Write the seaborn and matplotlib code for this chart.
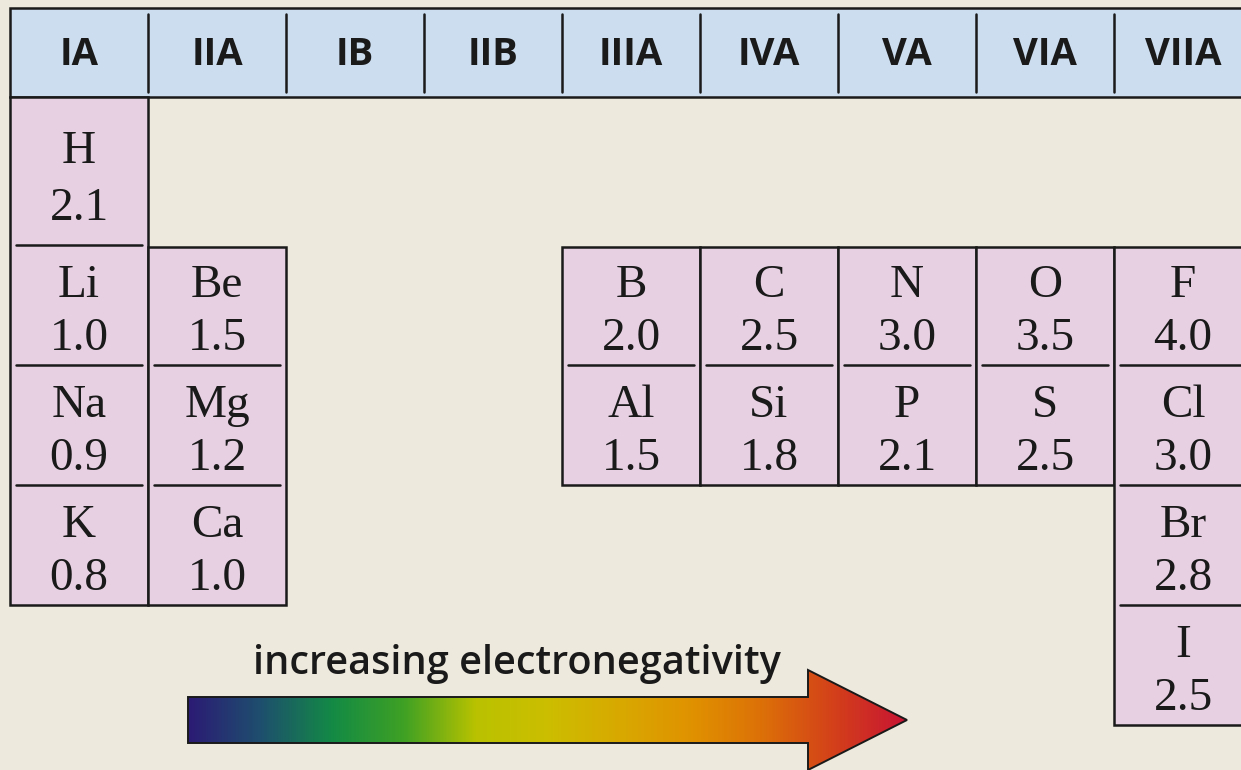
import numpy as np
import matplotlib
matplotlib.use("Agg")
import matplotlib.pyplot as plt
from matplotlib.patches import Rectangle, Polygon
import seaborn as sns

# group labels across the header
groups = ["IA", "IIA", "IB", "IIB", "IIIA", "IVA", "VA", "VIA", "VIIA"]

# elements with their Pauling electronegativity
symbols = ["H", "Li", "Na", "K", "Be", "Mg", "Ca", "B", "Al", "C", "Si",
           "N", "P", "O", "S", "F", "Cl", "Br", "I"]
values = [2.1, 1.0, 0.9, 0.8, 1.5, 1.2, 1.0, 2.0, 1.5, 2.5, 1.8,
          3.0, 2.1, 3.5, 2.5, 4.0, 3.0, 2.8, 2.5]
group_idx = [0, 0, 0, 0, 1, 1, 1, 4, 4, 5, 5, 6, 6, 7, 7, 8, 8, 8, 8]
period_row = [0, 1, 2, 3, 1, 2, 3, 1, 2, 1, 2, 1, 2, 1, 2, 1, 2, 3, 4]

# colour stops of the arrow, left to right
arrow_colors = ["#2B1B74", "#1E4F6E", "#138A45", "#3FA124", "#B9C200", "#CCBE00",
                "#D8A900", "#E09200", "#DC7008", "#D3401A", "#C81434"]

BG = "#EDE9DD"
HEAD = "#CCDDF0"
CELL = "#E6D0E2"
INK = "#1A1A1A"

# layout (pixel space)
x0, col_w = 10, 138
row_top = [97, 245, 365, 485, 605]
row_bot = [245, 365, 485, 605, 725]

sns.set_theme(style="white")

fig = plt.figure(figsize=(12.41, 7.70), dpi=100, facecolor=BG)
ax = fig.add_axes([0, 0, 1, 1])
ax.set_facecolor(BG)
ax.axis("off")

# header band
ax.add_patch(Rectangle((x0, 8), 1300, 89, facecolor=HEAD, edgecolor=INK, lw=1.8))
for i, g in enumerate(groups):
    cx = x0 + col_w * i + col_w / 2
    ax.text(cx, 55, g, ha="center", va="center", fontsize=27.5,
            fontweight="bold", family=["Open Sans", "DejaVu Sans"], color=INK)
    if i > 0:
        xl = x0 + col_w * i
        ax.plot([xl, xl], [14, 92], color=INK, lw=1.8)

# cells: one outlined column run per group, with inset separators
for g in sorted(set(group_idx)):
    rows = [r for gi, r in zip(group_idx, period_row) if gi == g]
    top = row_top[min(rows)] if min(rows) == 0 else row_top[min(rows)] + 2
    bot = row_bot[max(rows)]
    xl = x0 + col_w * g
    ax.add_patch(Rectangle((xl, top), col_w, bot - top, facecolor=CELL,
                           edgecolor=INK, lw=1.8, zorder=2))
    for r in rows[:-1]:
        ax.plot([xl + 6, xl + col_w - 6], [row_bot[r], row_bot[r]],
                color=INK, lw=1.8, zorder=3)

serif = ["Liberation Serif", "DejaVu Serif"]
for s, v, g, r in zip(symbols, values, group_idx, period_row):
    cx = x0 + col_w * g + col_w / 2
    h = row_bot[r] - row_top[r]
    fy = (0.37, 0.755) if r == 0 else (0.34, 0.785)
    ax.text(cx, row_top[r] + fy[0] * h, s, ha="center", va="center",
            fontsize=34, family=serif, color=INK, zorder=4)
    ax.text(cx, row_top[r] + fy[1] * h, f"{v:.1f}", ha="center", va="center",
            fontsize=34, family=serif, color=INK, zorder=4)

# gradient arrow
cmap = sns.blend_palette(arrow_colors, n_colors=256, as_cmap=True)
arrow = Polygon([(188, 697), (808, 697), (808, 670), (907, 720),
                 (808, 770), (808, 743), (188, 743)], closed=True,
                facecolor="none", edgecolor=INK, lw=1.4, zorder=6)
ax.add_patch(arrow)
grad = ax.imshow(np.linspace(0, 1, 256).reshape(1, -1), cmap=cmap, aspect="auto",
                 extent=(188, 907, 770, 670), zorder=5)
grad.set_clip_path(arrow)
ax.set_xlim(0, 1241)
ax.set_ylim(770, 0)

ax.text(517, 664, "increasing electronegativity", ha="center", va="center",
        fontsize=28.5, fontweight="semibold", family=["Open Sans", "DejaVu Sans"],
        color=INK)

fig.savefig("out.png", dpi=100, facecolor=BG)
